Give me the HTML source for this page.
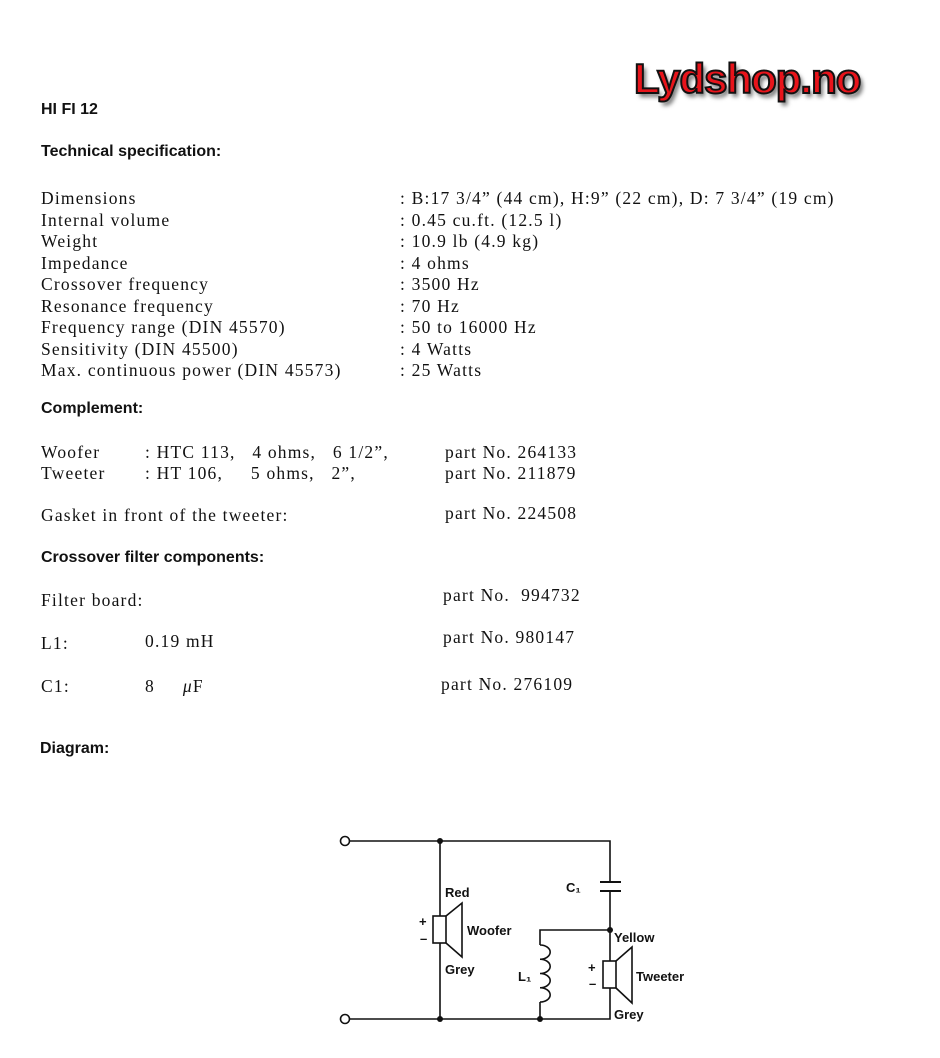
<!DOCTYPE html>
<html><head><meta charset="utf-8"><style>
body{margin:0;background:#fff;width:940px;height:1058px;position:relative;overflow:hidden;color:#111}
.s{position:absolute;font-family:"Liberation Serif",serif;font-size:17.5px;white-space:nowrap;line-height:1;letter-spacing:1.2px}
.h{position:absolute;font-family:"Liberation Sans",sans-serif;font-weight:bold;font-size:16px;white-space:nowrap;line-height:1}
.logo{position:absolute;left:634px;top:58px;font-family:"Liberation Sans",sans-serif;font-weight:bold;font-size:42px;color:#e8141b;-webkit-text-stroke:2px #111;letter-spacing:-1px;text-shadow:3px 4px 4px #777;line-height:1}
</style></head><body>
<div class="logo">Lydshop.no</div>
<div class="h" style="left:41px;top:102px">HI FI 12</div>
<div class="h" style="left:41px;top:144px">Technical specification:</div>
<div class="s" style="left:41px;top:188px;line-height:21.5px">Dimensions<br>Internal volume<br>Weight<br>Impedance<br>Crossover frequency<br>Resonance frequency<br>Frequency range (DIN 45570)<br>Sensitivity (DIN 45500)<br>Max. continuous power (DIN 45573)</div>
<div class="s" style="left:400px;top:188px;line-height:21.5px">: B:17 3/4” (44 cm), H:9” (22 cm), D: 7 3/4” (19 cm)<br>: 0.45 cu.ft. (12.5 l)<br>: 10.9 lb (4.9 kg)<br>: 4 ohms<br>: 3500 Hz<br>: 70 Hz<br>: 50 to 16000 Hz<br>: 4 Watts<br>: 25 Watts</div>
<div class="h" style="left:41px;top:401px">Complement:</div>
<div class="s" style="left:41px;top:442px;line-height:21px">Woofer<br>Tweeter</div>
<div class="s" style="left:145px;top:442px;line-height:21px">: HTC 113,&nbsp;&nbsp; 4 ohms,&nbsp;&nbsp; 6 1/2”,<br>: HT 106,&nbsp;&nbsp;&nbsp;&nbsp; 5 ohms,&nbsp;&nbsp; 2”,</div>
<div class="s" style="left:445px;top:442px;line-height:21px">part No. 264133<br>part No. 211879</div>
<div class="s" style="left:41px;top:507px">Gasket in front of the tweeter:</div>
<div class="s" style="left:445px;top:505px">part No. 224508</div>
<div class="h" style="left:41px;top:550px">Crossover filter components:</div>
<div class="s" style="left:41px;top:592px">Filter board:</div>
<div class="s" style="left:443px;top:587px">part No.&nbsp; 994732</div>
<div class="s" style="left:41px;top:635px">L1:</div>
<div class="s" style="left:145px;top:633px">0.19 mH</div>
<div class="s" style="left:443px;top:629px">part No. 980147</div>
<div class="s" style="left:41px;top:678px">C1:</div>
<div class="s" style="left:145px;top:678px">8&nbsp;&nbsp;&nbsp;&nbsp; <i>μ</i>F</div>
<div class="s" style="left:441px;top:676px">part No. 276109</div>
<div class="h" style="left:40px;top:741px">Diagram:</div>
<svg width="940" height="1058" style="position:absolute;left:0;top:0" fill="none" stroke="#111" stroke-width="1.6">
<circle cx="345" cy="841" r="4.5" fill="#fff"/><circle cx="345" cy="1019" r="4.5" fill="#fff"/>
<path d="M350 841H610V882M610 891V1019H350"/>
<path d="M600 882H621M600 891H621" stroke-width="2"/>
<path d="M440 841V916M440 943V1019"/>
<rect x="433" y="916" width="13" height="27"/><path d="M446 916L462 903V957L446 943"/>
<path d="M610 930H540V945M540 1002V1019"/>
<path d="M540 945a10 7 0 0 1 0 14.25a10 7 0 0 1 0 14.25a10 7 0 0 1 0 14.25a10 7 0 0 1 0 14.25"/>
<rect x="603" y="961" width="13" height="27" fill="#fff"/><path d="M616 961L632 947V1003L616 988"/>
<g fill="#111" stroke="none"><circle cx="440" cy="841" r="3"/><circle cx="440" cy="1019" r="3"/><circle cx="540" cy="1019" r="3"/><circle cx="610" cy="930" r="3"/></g>
<g fill="#111" stroke="none" font-family="Liberation Sans,sans-serif" font-weight="bold" font-size="13">
<text x="445" y="897">Red</text><text x="467" y="935">Woofer</text><text x="445" y="974">Grey</text>
<text x="566" y="892">C₁</text><text x="614" y="942">Yellow</text><text x="518" y="981">L₁</text>
<text x="636" y="981">Tweeter</text><text x="614" y="1019">Grey</text>
<text x="419" y="926">+</text><text x="420" y="943">–</text><text x="588" y="972">+</text><text x="589" y="988">–</text>
</g></svg>
</body></html>
